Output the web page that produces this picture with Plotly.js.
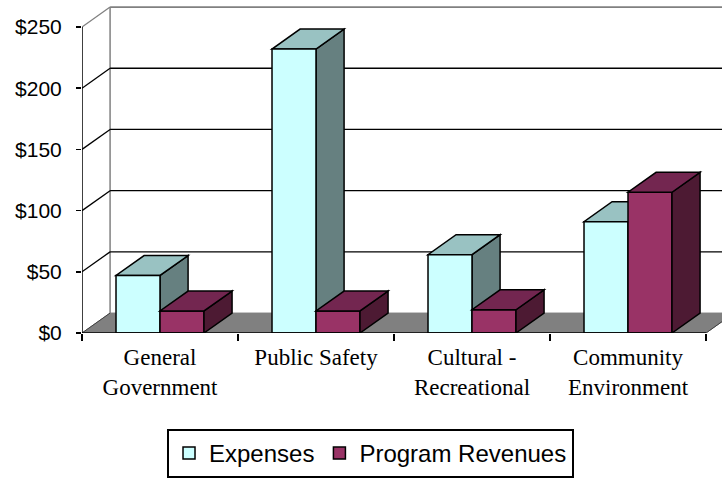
<!DOCTYPE html>
<html><head><meta charset="utf-8">
<script src="https://cdn.plot.ly/plotly-3.0.1.min.js"></script>
<style>html,body{margin:0;padding:0;background:#fff}#chart{width:722px;height:479px}</style>
</head><body><div id="chart"></div>
<script>
// ---- data ----
const categories = ["General Government", "Public Safety", "Cultural - Recreational", "Community Environment"];
const tickLabels = ["General<br>Government", "Public Safety", "Cultural -<br>Recreational", "Community<br>Environment"];
const seriesNames = ["Expenses", "Program Revenues"];
const expenses = [47, 232, 64, 91];
const programRevenues = [18, 18, 19, 115];
const yTickValues = [0, 50, 100, 150, 200, 250];
const yTickLabels = ["$0", "$50", "$100", "$150", "$200", "$250"];

// ---- styling / geometry ----
const frontColors = ["#ccffff", "#993366"];
const topColors = ["#99c2c2", "#732650"];
const sideColors = ["#668080", "#4d1a33"];
const bargap = 0.436;
const barW = (1 - bargap) / 2;
const dx = 0.18, dy = 16.3;
const idx = categories.map((c, i) => i);
const xMin = -0.5, xMax = categories.length - 0.5;
const yMax = yTickValues[yTickValues.length - 1];

function poly(pts) { return "M" + pts.map(p => p[0] + "," + p[1]).join("L") + "Z"; }

const shapes = [];
// floor
shapes.push({type: "path", xref: "x", yref: "y", layer: "below",
  path: poly([[xMin, 0], [xMax, 0], [xMax + dx, dy], [xMin + dx, dy]]),
  fillcolor: "#808080", line: {color: "#808080", width: 1}});
// back wall left edge
shapes.push({type: "line", xref: "x", yref: "y", layer: "below",
  x0: xMin + dx, y0: dy, x1: xMin + dx, y1: yMax + dy, line: {color: "#808080", width: 1.5}});
// gridlines on back wall + side wall diagonals
yTickValues.forEach(v => {
  const isEdge = (v === yMax);
  const col = isEdge ? "#808080" : "#000";
  if (v !== 0) {
    shapes.push({type: "line", xref: "x", yref: "y", layer: "below",
      x0: xMin + dx, y0: v + dy, x1: xMax + dx + 1, y1: v + dy, line: {color: col, width: isEdge ? 1.8 : 1.3}});
  }
  shapes.push({type: "line", xref: "x", yref: "y", layer: "below",
    x0: xMin, y0: v, x1: xMin + dx, y1: v + dy, line: {color: v === 0 ? "#404040" : col, width: v === 0 ? 1 : 1.3}});
});
// floor right edge
shapes.push({type: "line", xref: "x", yref: "y", layer: "below",
  x0: xMax, y0: 0, x1: xMax + dx, y1: dy, line: {color: "#404040", width: 1}});

// 3D faces
[expenses, programRevenues].forEach((vals, s) => {
  vals.forEach((v, i) => {
    const L = idx[i] - barW + s * barW, R = L + barW;
    const layer = s === 0 ? "below" : "above";
    shapes.push({type: "path", xref: "x", yref: "y", layer: layer,
      path: poly([[R, 0], [R, v], [R + dx, v + dy], [R + dx, dy]]),
      fillcolor: sideColors[s], line: {color: "#000", width: 1.5}});
    shapes.push({type: "path", xref: "x", yref: "y", layer: layer,
      path: poly([[L, v], [R, v], [R + dx, v + dy], [L + dx, v + dy]]),
      fillcolor: topColors[s], line: {color: "#000", width: 1.5}});
  });
});
// front axis lines
shapes.push({type: "line", xref: "x", yref: "y", layer: "above",
  x0: xMin, y0: 0, x1: xMin, y1: yMax, line: {color: "#000", width: 1.5}});
shapes.push({type: "line", xref: "x", yref: "y", layer: "above",
  x0: xMin, y0: 0, x1: xMax, y1: 0, line: {color: "#000", width: 1.5}});

const traces = [expenses, programRevenues].map((vals, s) => ({
  type: "bar", name: seriesNames[s], x: idx, y: vals,
  marker: {color: frontColors[s], line: {color: "#000", width: 1.5}},
  hoverinfo: "skip"
}));

const boundaries = idx.map(i => i - 0.5).concat([xMax]);

const layout = {
  width: 722, height: 479,
  margin: {l: 82, r: 0, t: 5, b: 146, autoexpand: false},
  paper_bgcolor: "#fff", plot_bgcolor: "rgba(0,0,0,0)",
  barmode: "group", bargap: bargap, bargroupgap: 0,
  showlegend: true,
  xaxis: {
    type: "linear", range: [xMin, xMin + 640 / 156], automargin: false,
    tickmode: "array", tickvals: idx, ticktext: tickLabels,
    ticks: "", showgrid: false, zeroline: false, showline: false,
    tickfont: {family: "Liberation Serif, Times New Roman, serif", size: 23, color: "#000"},
    ticklabelstandoff: 8,
    minor: {tickmode: "array", tickvals: boundaries, ticks: "outside", ticklen: 7, tickwidth: 1.5, tickcolor: "#000", showgrid: false}
  },
  yaxis: {
    type: "linear", range: [0, 268], automargin: false,
    tickmode: "array", tickvals: yTickValues, ticktext: yTickLabels,
    ticks: "outside", ticklen: 5, tickwidth: 1.5, tickcolor: "#000",
    showgrid: false, zeroline: false, showline: false,
    tickfont: {family: "Liberation Sans, Arial, sans-serif", size: 21, color: "#000"},
    ticklabelstandoff: 10
  },
  legend: {
    orientation: "h", x: 0.4508, xanchor: "center", y: -0.442, yanchor: "bottom",
    bordercolor: "#000", borderwidth: 2, bgcolor: "#fff",
    font: {family: "Liberation Sans, Arial, sans-serif", size: 24, color: "#000"},
    itemwidth: 30, traceorder: "normal"
  },
  shapes: shapes
};

Plotly.newPlot("chart", traces, layout, {displayModeBar: false, staticPlot: true});
</script>
</body></html>
